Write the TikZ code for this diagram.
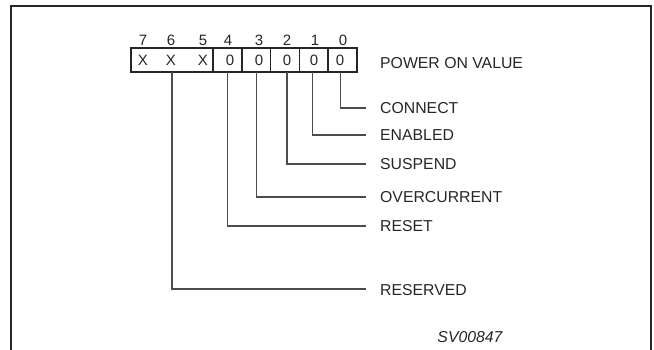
\documentclass[tikz,border=0pt]{standalone}
\usepackage{fontspec}
\setmainfont{Liberation Sans}
\begin{document}
\begin{tikzpicture}[x=1pt,y=-1pt,
  txt/.style={font=\fontsize{15.8}{18}\selectfont, text=black!85, inner sep=0pt},
  bittxt/.style={font=\fontsize{15}{17}\selectfont, text=black!85, inner sep=0pt},
  cell/.style={draw=black!85, line width=1.6pt, minimum height=24pt, inner sep=0pt, outer sep=0pt},
  conn/.style={draw=black!70, line width=1.1pt},
  frame/.style={draw=black!85, line width=2.2pt}]
\useasboundingbox (0,0) rectangle (654,350);
% frame
\draw[frame] (11,352) -- (11,6) -- (651,6) -- (651,352);
% register cells
\node[cell, minimum width=82pt] (c765) at (172,60) {};
\node[cell, minimum width=28.8pt] (c4) at (227.4,60) {};
\node[cell, minimum width=28.8pt] (c3) at (256.2,60) {};
\node[cell, minimum width=28.8pt] (c2) at (285,60) {};
\node[cell, minimum width=28.8pt] (c1) at (313.8,60) {};
\node[cell, minimum width=28.8pt] (c0) at (342.6,60) {};
% cell values
\node[bittxt] (x7) at (143,60) {X};
\node[bittxt] (x6) at (171,60) {X};
\node[bittxt] (x5) at (203,60) {X};
\node[bittxt] (v4) at (230,60) {0};
\node[bittxt] (v3) at (259,60) {0};
\node[bittxt] (v2) at (287,60) {0};
\node[bittxt] (v1) at (314,60) {0};
\node[bittxt] (v0) at (340,60) {0};
% bit numbers
\node[bittxt] (b7) at (143,40) {7};
\node[bittxt] (b6) at (171,40) {6};
\node[bittxt] (b5) at (203,40) {5};
\node[bittxt] (b4) at (228,40) {4};
\node[bittxt] (b3) at (259,40) {3};
\node[bittxt] (b2) at (287,40) {2};
\node[bittxt] (b1) at (315,40) {1};
\node[bittxt] (b0) at (343,40) {0};
% labels
\node[txt, anchor=west] (pov) at (380,63) {POWER ON VALUE};
\node[txt, anchor=west] (lconn) at (380,108) {CONNECT};
\node[txt, anchor=west] (lena) at (380,135) {ENABLED};
\node[txt, anchor=west] (lsus) at (380,164) {SUSPEND};
\node[txt, anchor=west] (lovc) at (380,197) {OVERCURRENT};
\node[txt, anchor=west] (lres) at (380,226) {RESET};
\node[txt, anchor=west] (lrsv) at (380,290) {RESERVED};
\node[txt, anchor=center, font=\fontsize{15.8}{18}\selectfont\itshape] (sv) at (470,337) {SV00847};
% connectors
\coordinate (e0) at (366,108);
\coordinate (e1) at (366,135);
\coordinate (e2) at (366,164);
\coordinate (e3) at (366,197);
\coordinate (e4) at (366,226);
\coordinate (e6) at (366,289);
\draw[conn] ([xshift=-2pt]c0.south) |- (e0);
\draw[conn] ([xshift=-1.5pt]c1.south) |- (e1);
\draw[conn] ([xshift=2pt]c2.south) |- (e2);
\draw[conn] (c3.south) |- (e3);
\draw[conn] (c4.south) |- (e4);
\draw[conn] (c765.south) |- (e6);
\end{tikzpicture}
\end{document}
